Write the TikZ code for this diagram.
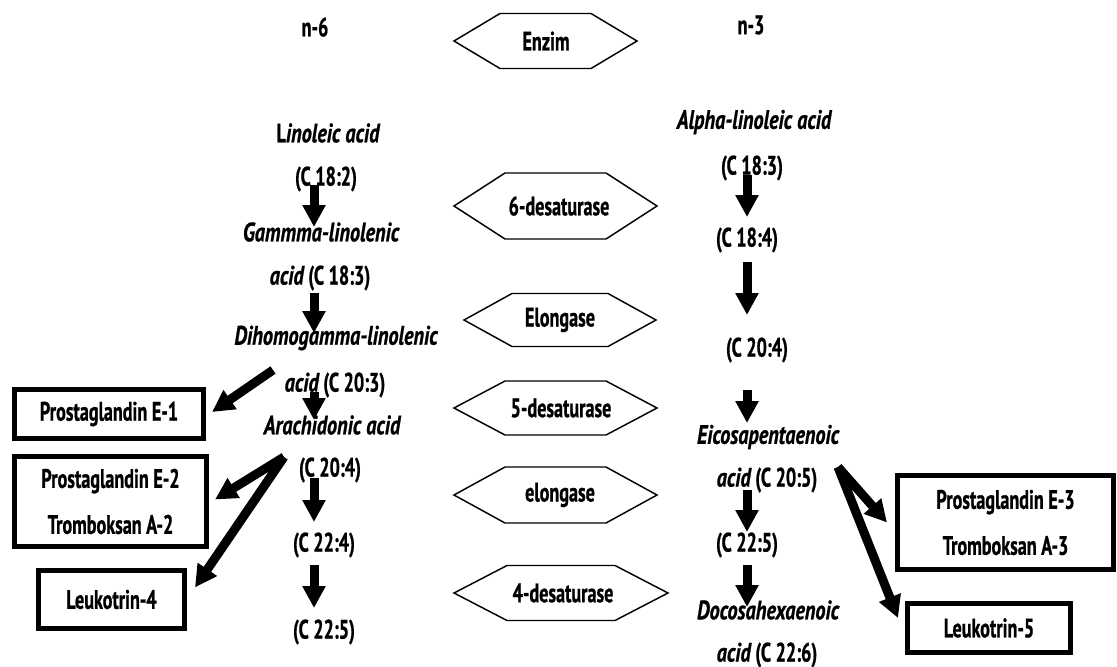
\documentclass[tikz,border=0pt]{standalone}
\usepackage{fontspec}
\setmainfont{PT Sans}[FakeStretch=0.68, BoldFeatures={FakeBold=0.8}, BoldItalicFeatures={FakeBold=0.8}]
\newfontfamily\wideit{PT Sans}[FakeStretch=0.76, BoldItalicFeatures={FakeBold=0.8}]
\newcommand\spit[1]{{\wideit\bfseries\itshape #1}}
\usetikzlibrary{arrows.meta}

\tikzset{
  every node/.style={font=\fontsize{20pt}{22pt}\selectfont\bfseries, inner sep=0pt},
  itl/.style={font=\fontsize{20pt}{22pt}\selectfont\wideit\bfseries\itshape},
  hexa/.style={line width=1.1pt, line join=miter},
  fat/.style={line width=6.75pt, -{Triangle[width=16.5pt,length=16.5pt]}},
  prod/.style={draw, line width=3.75pt, align=center,
    font=\fontsize{20pt}{34.5pt}\selectfont\bfseries},
}

\begin{document}
\begin{tikzpicture}[x=0.75pt, y=-0.75pt]
\useasboundingbox (0,0) rectangle (1117,667);

% enzyme column
\foreach \n/\x/\y/\w/\h/\d/\tx/\t in {
  hz0/545.5/41/91/55/46/546/Enzim,
  hz1/555.5/206/101/66/51/559/6-desaturase,
  hz2/560/320/96/53/48/560/Elongase,
  hz3/555.5/408/101/54/51/561/5-desaturase,
  hz4/555.5/495/101/56/51/560/elongase,
  hz5/561/593/108/55/53/563/4-desaturase}{
  \draw[hexa] (\x-\w/2-\d,\y) -- (\x-\w/2,\y-\h/2) -- (\x+\w/2,\y-\h/2)
    -- (\x+\w/2+\d,\y) -- (\x+\w/2,\y+\h/2) -- (\x-\w/2,\y+\h/2) -- cycle;
  \node (\n) at (\tx,\y) {\t};
}

% n-6
\node (n6) at (315,27) {n-6};
\node (la) at (328,133) {L\spit{inoleic acid}};
\node (c182) at (326,179) {(C 18:2)};
\node[itl] (gla) at (321,232) {Gammma-linolenic};
\node (ac183) at (320,278) {\spit{acid} (C 18:3)};
\node[itl] (dgla) at (336,338) {Dihomogamma-linolenic};
\node (ac203) at (335,385) {\spit{acid} (C 20:3)};
\node[itl] (ara) at (332,425) {Arachidonic acid};
\node (c204) at (330,470) {(C 20:4)};
\node (c224) at (324,545) {(C 22:4)};
\node (c225) at (324,632) {(C 22:5)};

% n-3
\node (n3) at (751,25) {n-3};
\node[itl] (ala) at (754,122) {Alpha-linoleic acid};
\node (c183) at (752,168) {(C 18:3)};
\node (c184) at (747,240) {(C 18:4)};
\node (c204r) at (757,350) {(C 20:4)};
\node[itl] (epa) at (768,437) {Eicosapentaenoic};
\node (ac205) at (767,480) {\spit{acid} (C 20:5)};
\node (c225r) at (747,545) {(C 22:5)};
\node[itl] (dha) at (768,610) {Docosahexaenoic};
\node (ac226) at (767,655) {\spit{acid} (C 22:6)};

% products
\node[prod, minimum width=141.75pt, minimum height=36.75pt] (pg1) at (109,414) {Prostaglandin E-1};
\node[prod, minimum width=144pt, minimum height=67.5pt] (pg2) at (110.5,501.5) {Prostaglandin E-2\\Tromboksan A-2};
\node[prod, minimum width=109.5pt, minimum height=43.5pt] (lk4) at (111.5,599.5) {Leukotrin-4};
\node[prod, minimum width=162pt, minimum height=70.5pt] (pg3) at (1005.5,522.5) {Prostaglandin E-3\\Tromboksan A-3};
\node[prod, minimum width=122.25pt, minimum height=36.75pt] (lk5) at (989,628) {Leukotrin-5};

\coordinate (colL) at (314,0);
\coordinate (colR) at (747,0);
\coordinate (sp1) at (273,370);
\coordinate (sp2) at (284,457);
\coordinate (sp3) at (838,467);

% main chains
\foreach \a/\b/\s/\e in {c182/gla/4.5/3.75, ac183/dgla/11.25/3.75, ac203/ara/5.25/3.75,
  c204/c224/6/17.25, c224/c225/15/18}
  \draw[fat, shorten <=\s pt, shorten >=\e pt] (\a.center -| colL) -- (\b.center -| colL);
\foreach \a/\b/\s/\e in {c183/c184/5.25/17.25, c184/c204r/16.5/26.25, c204r/epa/30/10.5,
  ac205/c225r/7.5/9.75, c225r/dha/15/2.25}
  \draw[fat, shorten <=\s pt, shorten >=\e pt] (\a.center -| colR) -- (\b.center -| colR);

% side branches
\draw[fat] (sp1) -- ([shift={(6,-2)}]pg1.east);
\draw[fat] (sp2) -- ([shift={(6,-2)}]pg2.east);
\draw[fat] (sp2) -- ([shift={(8,-12)}]lk4.east);
\draw[fat] (sp3) -- ([shift={(-8,0)}]pg3.west);
\draw[fat] (sp3) -- ([shift={(-7,-10)}]lk5.west);
\end{tikzpicture}
\end{document}
